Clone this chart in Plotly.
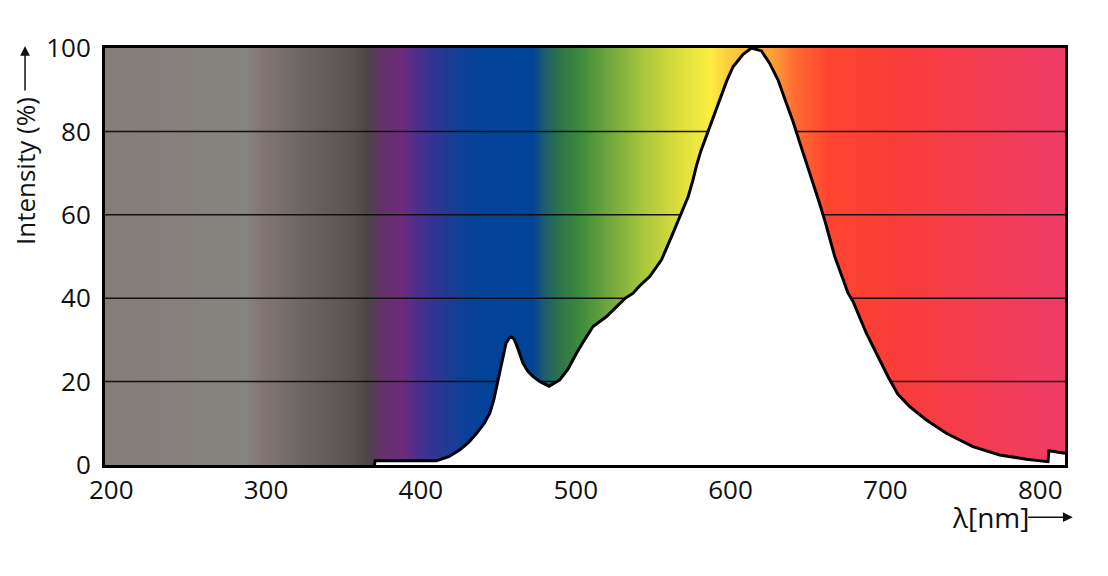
import plotly.graph_objects as go

# spectrum of the lamp
wavelength = [370, 370.5, 380, 390, 400, 410, 418, 425, 431, 436, 441, 444.5, 447, 449,
              452, 455, 457, 458.6, 460.2, 461.8, 466, 469, 472.5, 477, 482.8, 489.7, 495,
              500.5, 506, 511.2, 519.9, 526.3, 532, 537.1, 541.4, 547.8, 555.4, 561.8,
              567.2, 572.6, 575.7, 578, 581, 585.5, 588.7, 593, 597.4, 601.6, 608.1, 613.5,
              620, 625.3, 630.7, 636.1, 640.4, 644.7, 649, 653.3, 657, 661, 667.3, 675.9,
              679.1, 687.7, 696.3, 702, 708, 715.7, 726.5, 739.4, 756.5, 773.8, 791, 803.9,
              805, 805.6, 816]
intensity = [0, 1.0, 1.0, 1.0, 1.0, 1.0, 2.0, 3.6, 5.5, 7.6, 10.0, 12.4, 15.5, 18.8,
             24.4, 29.2, 30.4, 30.7, 30.2, 28.8, 24.4, 22.5, 21.2, 20.0, 18.9, 20.4, 23.0,
             26.8, 30.2, 33.2, 35.6, 38.0, 40.0, 41.2, 43.0, 45.2, 49.2, 54.7,
             59.5, 64.3, 68.3, 71.8, 75.5, 80.0, 83.5, 88.0, 92.0, 95.5, 98.5, 100,
             99.3, 96.3, 92.3, 86.7, 82.3, 77.3, 72.6, 67.8, 63.3, 58.5, 50.0, 41.2,
             39.2, 31.6, 25.2, 21.0, 17.0, 14.0, 10.8, 7.6, 4.4, 2.4, 1.4, 0.8,
             0.8, 3.4, 2.8]

# background colour bands (wavelength -> colour)
band_nm = [196, 287, 296, 326, 356, 365, 375, 388, 399, 408, 425, 440, 472, 479, 490,
           502, 522, 543, 565, 587, 597, 627, 640, 662, 705, 748, 816]
band_colours = ["#857d7a", "#868480", "#837775", "#6a6462", "#57524f", "#4d4449",
                "#64306a", "#6c2b7c", "#482f8f", "#323592", "#0f3f96", "#034299",
                "#004398", "#1b5a72", "#2f7449", "#3b8a3c", "#72a83e", "#a6c63c",
                "#d8dc3e", "#fcee40", "#fbd03e", "#fca038", "#fe7032", "#ff4530",
                "#f93c38", "#f53c4c", "#ee3c66"]

y_ticks = [0, 20, 40, 60, 80, 100]
x_ticks = [200, 300, 400, 500, 600, 700, 800]

x_min, x_max = band_nm[0], band_nm[-1]
colorscale = [[(w - x_min) / (x_max - x_min), c] for w, c in zip(band_nm, band_colours)]

fig = go.Figure()

# gradient background
fig.add_trace(go.Heatmap(
    x=band_nm, y=[0, 100], z=[band_nm, band_nm],
    colorscale=colorscale, zmin=x_min, zmax=x_max,
    zsmooth="best", showscale=False, hoverinfo="skip",
))

# grid lines sit on the gradient, under the white area
for t in y_ticks[1:-1]:
    fig.add_trace(go.Scatter(
        x=[x_min, x_max], y=[t, t], mode="lines",
        line=dict(color="#111111", width=1.5), hoverinfo="skip",
    ))

# white area under the spectrum
fig.add_trace(go.Scatter(
    x=wavelength, y=intensity, mode="lines", fill="tozeroy",
    fillcolor="white", line=dict(color="black", width=3),
))

font = dict(family="Open Sans", color="#111111")

fig.update_xaxes(
    range=[x_min, x_max], tickvals=x_ticks, showgrid=False, zeroline=False,
    showline=True, linecolor="black", linewidth=3, mirror=True, automargin=False,
    tickfont=dict(size=26, **font), ticklabelstandoff=0,
)
fig.update_yaxes(
    range=[0, 100], tickvals=y_ticks, showgrid=False, zeroline=False,
    showline=True, linecolor="black", linewidth=3, mirror=True, automargin=False,
    tickfont=dict(size=26, **font), ticklabelstandoff=6,
)

# page body has an 8px margin, so the figure is a bit smaller than the window
fig.update_layout(
    width=1100, height=568,
    margin=dict(l=97, r=43, t=40, b=111),
    plot_bgcolor="white", paper_bgcolor="white",
    showlegend=False,
    annotations=[
        dict(text="Intensity (%)", textangle=-90, xref="paper", yref="paper",
             x=-0.0833, y=0.705, xanchor="center", yanchor="middle",
             showarrow=False, font=dict(size=26, **font)),
        dict(text="", xref="paper", yref="paper", x=-0.0833, y=1.005,
             ax=0, ay=46, showarrow=True, arrowhead=2, arrowsize=1.3,
             arrowwidth=1.5, arrowcolor="#111111"),
        dict(text="λ[nm]", xref="paper", yref="paper", x=0.922, y=-0.125,
             xanchor="center", yanchor="middle",
             showarrow=False, font=dict(size=28, **font)),
        dict(text="", xref="paper", yref="paper", x=1.008, y=-0.125,
             ax=-46, ay=0, showarrow=True, arrowhead=2, arrowsize=1.3,
             arrowwidth=1.5, arrowcolor="#111111"),
    ],
)

fig.write_html("out.html")
